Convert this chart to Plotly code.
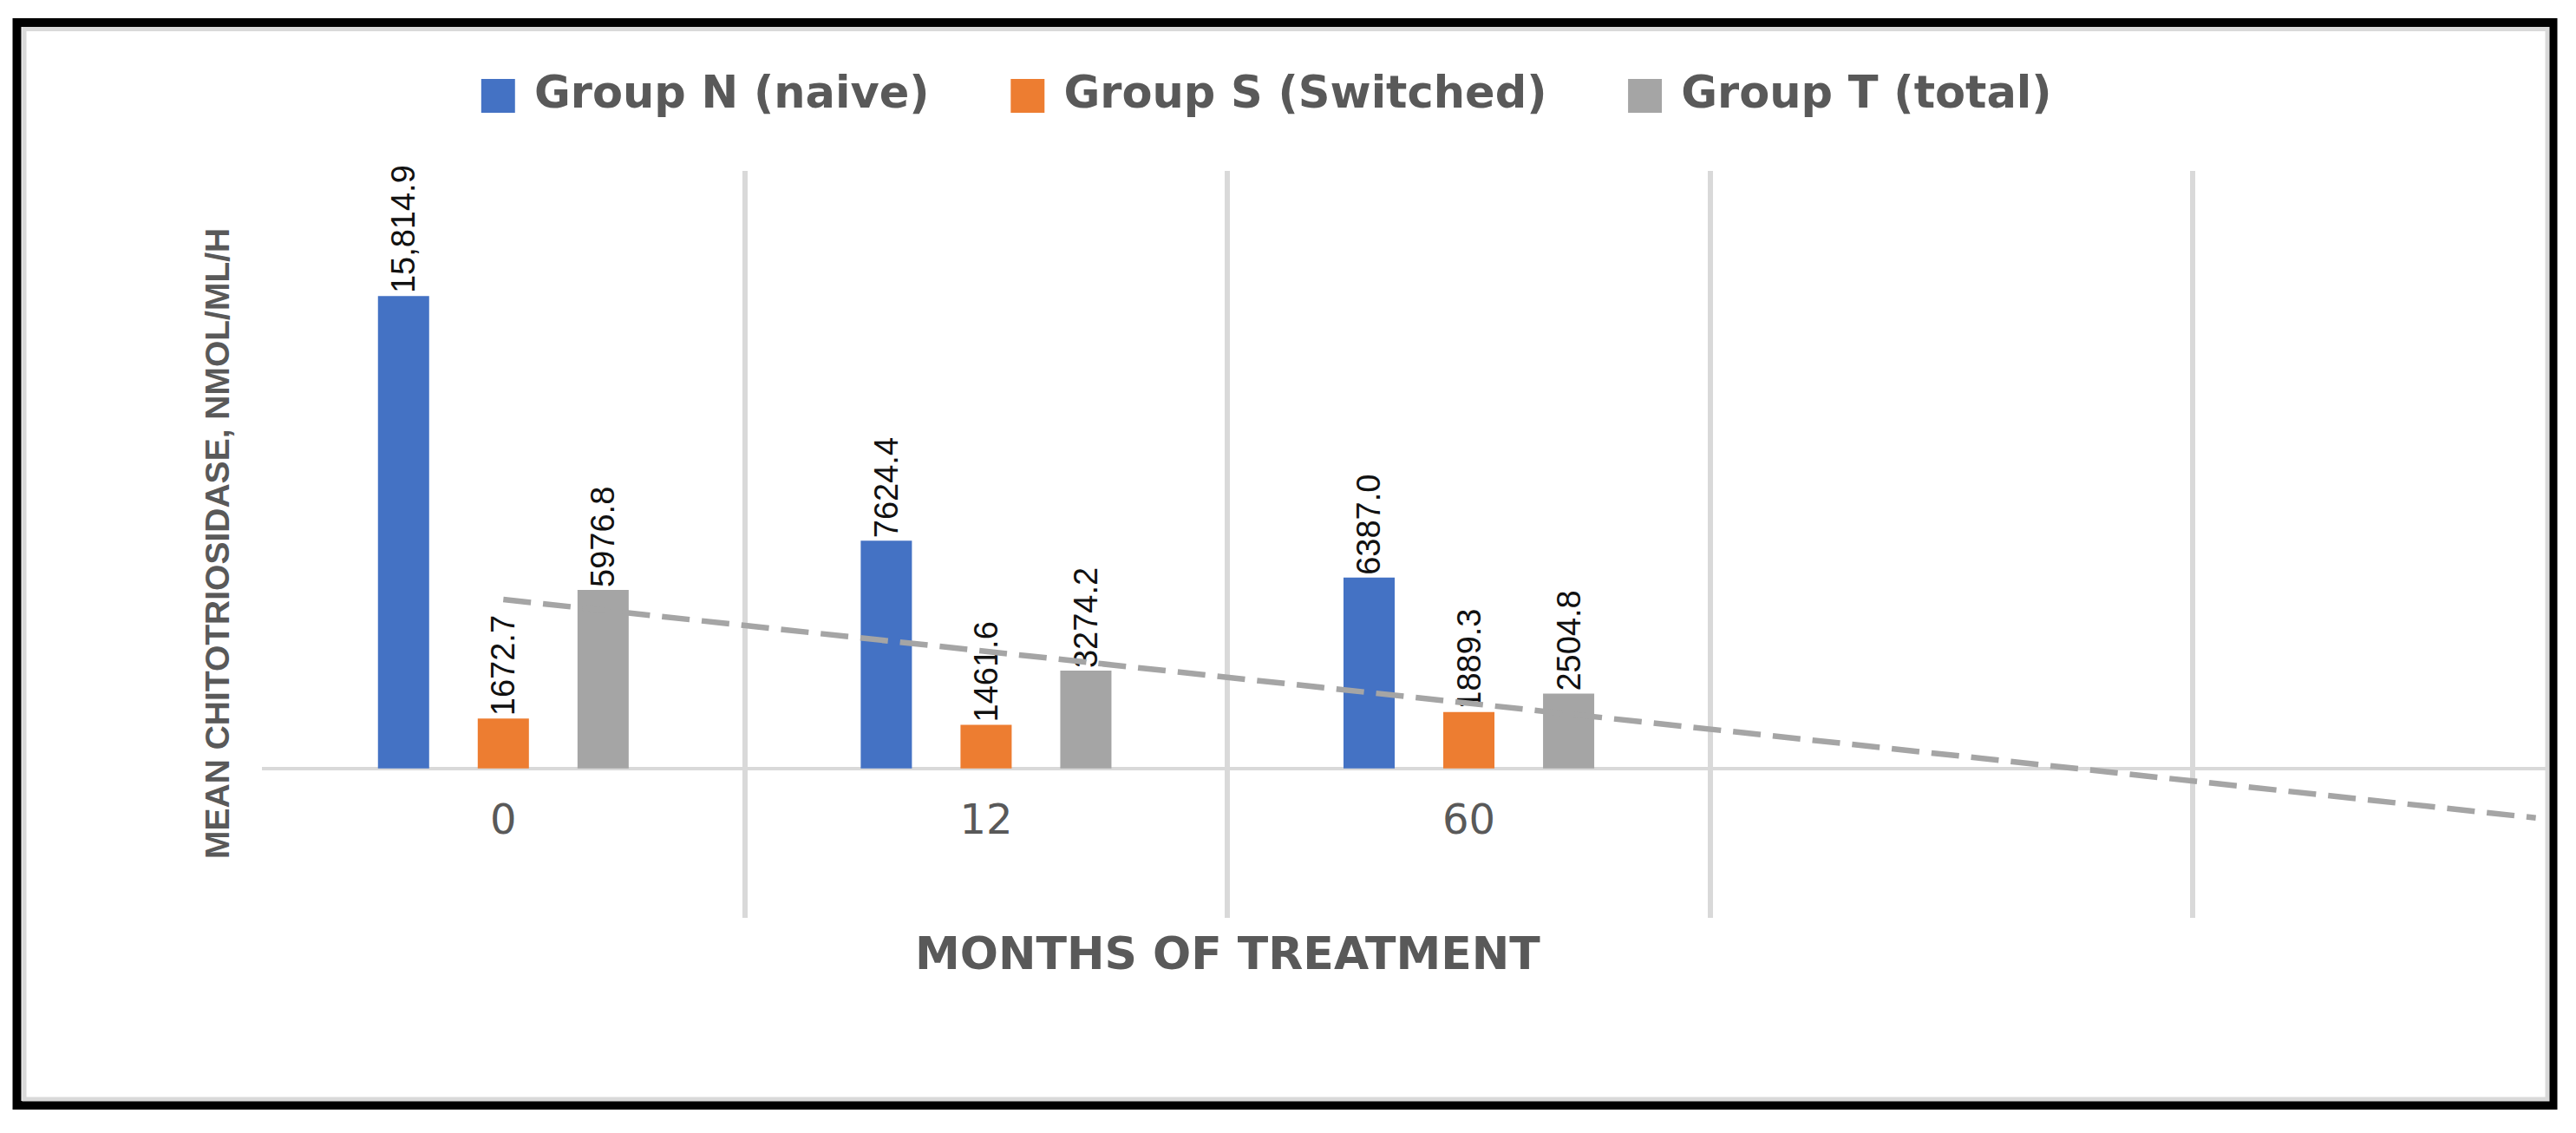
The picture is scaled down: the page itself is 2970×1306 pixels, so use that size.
import numpy as np
import plotly.graph_objects as go

# ---------------- data ----------------
MONTHS = ["0", "12", "60"]
GROUP_N = [15814.9, 7624.4, 6387.0]
GROUP_S = [1672.7, 1461.6, 1889.3]
GROUP_T = [5976.8, 3274.2, 2504.8]
LABELS_N = ["15,814.9", "7624.4", "6387.0"]
LABELS_S = ["1672.7", "1461.6", "1889.3"]
LABELS_T = ["5976.8", "3274.2", "2504.8"]
SERIES_NAMES = ["Group N (naive)", "Group S (Switched)", "Group T (total)"]
COLORS = ["#4472C4", "#ED7D31", "#A5A5A5"]
Y_TITLE = "MEAN CHITOTRIOSIDASE, NMOL/ML/H"
X_TITLE = "MONTHS OF TREATMENT"
TREND_FORWARD = 2.21          # linear trendline of Group T, forecast forward (periods)
Y_RANGE = [-5000, 20000]
X_RANGE = [-0.5, 4.234]

# ---------------- layout geometry (pixels) ----------------
W, H = 2954, 1290
L, R, T, B = 294, 25, 189, 240
PW = W - L - R
PH = H - T - B


def px_x(p):
    return (p - L) / PW


def px_y(p):
    return (H - B - p) / PH


idx = np.arange(len(MONTHS))

fig = go.Figure()

label_font = dict(family="Liberation Sans, Arial", size=38, color="#111111")
for name, vals, labels, color in zip(SERIES_NAMES, [GROUP_N, GROUP_S, GROUP_T],
                                     [LABELS_N, LABELS_S, LABELS_T], COLORS):
    fig.add_trace(go.Bar(
        x=idx, y=vals, name=name, marker=dict(color=color, line=dict(width=0)),
        text=labels, textposition="outside", textangle=-90, textfont=label_font,
        constraintext="none", cliponaxis=False, showlegend=False, hoverinfo="skip",
    ))

# linear trendline for Group T
coef = np.polyfit(idx, GROUP_T, 1)
tx = np.array([idx[0], idx[-1] + TREND_FORWARD])
ty = np.polyval(coef, tx)
fig.add_trace(go.Scatter(
    x=tx, y=ty, mode="lines", showlegend=False, hoverinfo="skip",
    line=dict(color="#A5A5A5", width=6.5, dash="32px,14px"),
))

zero_pos = (0 - Y_RANGE[0]) / (Y_RANGE[1] - Y_RANGE[0])

fig.update_layout(
    width=W, height=H,
    margin=dict(l=L, r=R, t=T, b=B, pad=0),
    paper_bgcolor="white", plot_bgcolor="white",
    barmode="group", bargap=0.38, bargroupgap=0.487,
    showlegend=False,
    xaxis=dict(
        range=X_RANGE, tickmode="array", tickvals=idx, ticktext=MONTHS,
        showgrid=False, zeroline=False, showline=False, ticks="",
        anchor="free", position=zero_pos, ticklabelstandoff=26,
        tickfont=dict(family="DejaVu Sans", size=48, color="#595959"),
        minor=dict(tickmode="linear", tick0=0.5, dtick=1, showgrid=True,
                   gridcolor="#D9D9D9", gridwidth=6, ticks=""),
    ),
    yaxis=dict(
        range=Y_RANGE, showticklabels=False, showgrid=False, ticks="",
        zeroline=True, zerolinecolor="#D9D9D9", zerolinewidth=4, showline=False,
    ),
)

legend_text = ("\u00a0" * 5).join(
    f'<span style="color:{c}">\u25a0</span>\u00a0{n}' for n, c in zip(SERIES_NAMES, COLORS)
)

fig.add_annotation(
    text=legend_text, xref="paper", yref="paper", x=px_x(1450), y=px_y(99),
    xanchor="center", yanchor="middle", showarrow=False,
    font=dict(family="DejaVu Sans", size=51, color="#595959", weight="bold"),
)
fig.add_annotation(
    text=Y_TITLE, textangle=-90, xref="paper", yref="paper", x=px_x(242), y=px_y(619),
    xanchor="center", yanchor="middle", showarrow=False,
    font=dict(family="Liberation Sans, Arial", size=39, color="#595959", weight="bold"),
)
fig.add_annotation(
    text=X_TITLE, xref="x", yref="paper", x=1.5, y=px_y(1091),
    xanchor="center", yanchor="middle", showarrow=False,
    font=dict(family="DejaVu Sans", size=52, color="#595959", weight="bold"),
)

# chart frame: black outer border and light-grey inner border
fig.add_shape(type="rect", xref="paper", yref="paper", layer="above",
              x0=px_x(11.5), x1=px_x(2935.5), y0=px_y(18), y1=px_y(1266),
              line=dict(color="black", width=10))
fig.add_shape(type="rect", xref="paper", yref="paper", layer="above",
              x0=px_x(20), x1=px_x(2929), y0=px_y(25.5), y1=px_y(1259),
              line=dict(color="#D9D9D9", width=5))

fig.write_html("out.html")
